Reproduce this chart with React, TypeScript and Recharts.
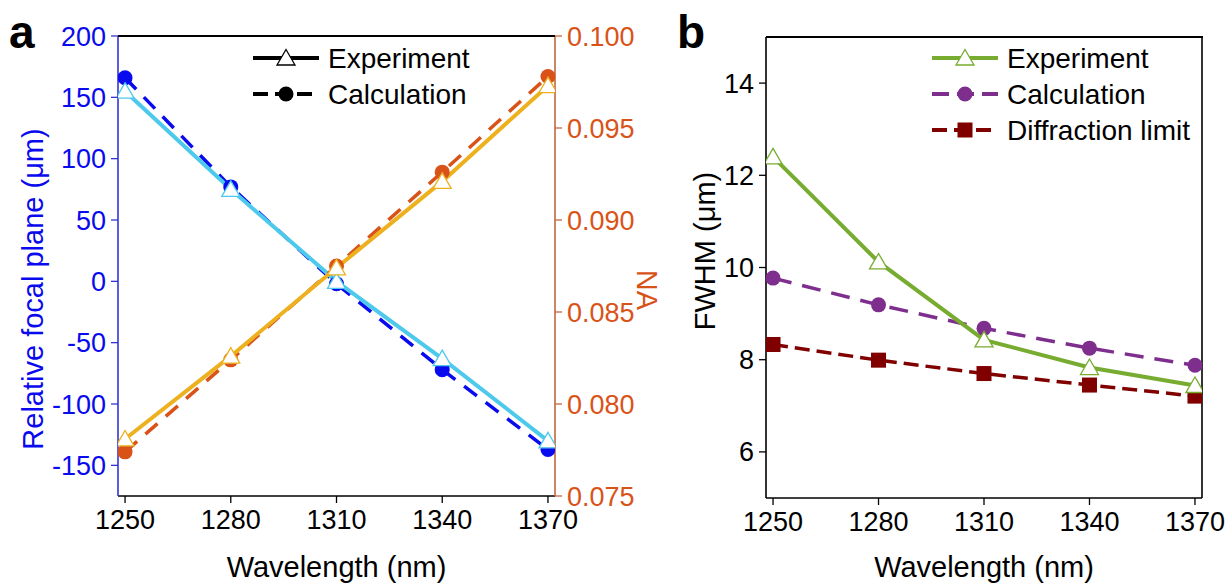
import { LineChart, Line, XAxis, YAxis, Legend } from 'recharts'

const WAVELENGTHS = [1250, 1280, 1310, 1340, 1370]
const FOCAL_EXP = [155, 75, 0, -63, -130]
const FOCAL_CALC = [166, 77, -2, -72, -137]
const NA_EXP = [0.0781, 0.0826, 0.0874, 0.0921, 0.0973]
const NA_CALC = [0.0774, 0.0824, 0.0875, 0.0926, 0.0978]
const FWHM_EXP = [12.4, 10.12, 8.43, 7.83, 7.44]
const FWHM_CALC = [9.77, 9.19, 8.68, 8.25, 7.88]
const FWHM_DIFF = [8.33, 7.99, 7.7, 7.45, 7.21]

const X_TICKS = [1250, 1280, 1310, 1340, 1370]
const FOCAL_TICKS = [-150, -100, -50, 0, 50, 100, 150, 200]
const NA_TICKS = [0.075, 0.08, 0.085, 0.09, 0.095, 0.1]
const FWHM_TICKS = [6, 8, 10, 12, 14]

const FONT = '"Liberation Sans", Arial, sans-serif'
const BLUE = '#0A0AEE'
const CYAN = '#4DC9EC'
const ORANGE = '#D95319'
const YELLOW = '#EDB120'
const GREEN = '#77AC30'
const PURPLE = '#7E2F8E'
const DARKRED = '#800000'

const dataA = WAVELENGTHS.map((w, i) => ({
  w,
  focalExp: FOCAL_EXP[i],
  focalCalc: FOCAL_CALC[i],
  naExp: NA_EXP[i],
  naCalc: NA_CALC[i]
}))

const dataB = WAVELENGTHS.map((w, i) => ({
  w,
  exp: FWHM_EXP[i],
  calc: FWHM_CALC[i],
  diff: FWHM_DIFF[i]
}))

// marker shapes
function triPath(cx: number, cy: number) {
  return `M${cx},${cy - 8.5} L${cx + 9},${cy + 7} L${cx - 9},${cy + 7} Z`
}

const triDot = (color: string) => (p: any) => (
  <path key={`t-${p.index}`} d={triPath(p.cx, p.cy)} fill="#fff" stroke={color} strokeWidth={1.3} />
)
const circleDot = (color: string, r = 7.5) => (p: any) => (
  <circle key={`c-${p.index}`} cx={p.cx} cy={p.cy} r={r} fill={color} />
)
const squareDot = (color: string) => (p: any) => (
  <rect key={`s-${p.index}`} x={p.cx - 7.5} y={p.cy - 7.5} width={15} height={15} fill={color} />
)

function marker(kind: string, cx: number, cy: number, color: string) {
  if (kind === 'tri') return <path d={triPath(cx, cy)} fill="#fff" stroke={color} strokeWidth={1.3} />
  if (kind === 'circle') return <circle cx={cx} cy={cy} r={7.5} fill={color} />
  return <rect x={cx - 7.5} y={cy - 7.5} width={15} height={15} fill={color} />
}

const LEGEND_A = [
  { name: 'Experiment', color: '#000', dash: undefined, kind: 'tri' },
  { name: 'Calculation', color: '#000', dash: '15 7', kind: 'circle' }
]
const LEGEND_B = [
  { name: 'Experiment', color: GREEN, dash: undefined, kind: 'tri' },
  { name: 'Calculation', color: PURPLE, dash: '17 8', kind: 'circle' },
  { name: 'Diffraction limit', color: DARKRED, dash: '15 7', kind: 'square' }
]

function LegendBox({ items, width }: { items: typeof LEGEND_B; width: number }) {
  return (
    <svg width={width} height={items.length * 36 + 4} style={{ display: 'block', overflow: 'visible' }}>
      {items.map((it, i) => {
        const y = 18 + i * 36
        return (
          <g key={it.name}>
            <line x1={2} x2={68} y1={y} y2={y} stroke={it.color} strokeWidth={4} strokeDasharray={it.dash} />
            {marker(it.kind, 35, y, it.color)}
            <text x={77} y={y} dominantBaseline="central" fontSize={28} fontFamily={FONT} fill="#000">
              {it.name}
            </text>
          </g>
        )
      })}
    </svg>
  )
}

const title = (text: string, color: string, angle: number, fx: (vb: any) => number, fy: (vb: any) => number) => ({
  content: (p: any) => {
    const vb = p.viewBox
    const x = fx(vb)
    const y = fy(vb)
    return (
      <text
        x={x}
        y={y}
        transform={angle ? `rotate(${angle} ${x} ${y})` : undefined}
        textAnchor="middle"
        fontSize={29}
        fontFamily={FONT}
        fill={color}
      >
        {text}
      </text>
    )
  }
})

const tickStyle = (color: string) => ({ fill: color, fontSize: 27, fontFamily: FONT })
const axisLine = (color: string) => ({ stroke: color, strokeWidth: 1.6 })

export default function App() {
  return (
    <div style={{ position: 'absolute', left: 0, top: 0, width: 1230, height: 583, background: '#fff', fontFamily: FONT }}>
      <div style={{ position: 'absolute', left: 0, top: 0 }}>
        <LineChart width={665} height={583} data={dataA} margin={{ top: 36, right: 0, left: 0, bottom: 0 }}>
          <XAxis
            dataKey="w"
            type="number"
            domain={[1248, 1372]}
            ticks={X_TICKS}
            height={87}
            axisLine={axisLine('#000')}
            tickLine={{ stroke: '#000', strokeWidth: 1.3 }}
            tickSize={7}
            tickMargin={7}
            tick={tickStyle('#000')}
            allowDataOverflow
            label={title('Wavelength (nm)', '#000', 0, (vb) => vb.x + vb.width / 2, (vb) => vb.y + 81)}
          />
          <YAxis
            yAxisId="left"
            type="number"
            domain={[-175, 200]}
            ticks={FOCAL_TICKS}
            width={118}
            axisLine={axisLine('#3535D0')}
            tickLine={{ stroke: '#3535D0', strokeWidth: 1.3 }}
            tickSize={7}
            tickMargin={5}
            tick={tickStyle(BLUE)}
            allowDataOverflow
            label={title('Relative focal plane (μm)', BLUE, -90, () => 43, () => 289)}
          />
          <YAxis
            yAxisId="right"
            orientation="right"
            type="number"
            domain={[0.075, 0.1]}
            ticks={NA_TICKS}
            width={110}
            axisLine={axisLine('#C0683F')}
            tickLine={{ stroke: '#C0683F', strokeWidth: 1.3 }}
            tickSize={7}
            tickMargin={5}
            tick={tickStyle(ORANGE)}
            tickFormatter={(v: number) => v.toFixed(3)}
            allowDataOverflow
            label={title('NA', ORANGE, 90, () => 637, () => 290)}
          />
          <Legend
            layout="horizontal"
            verticalAlign="middle"
            align="center"
            wrapperStyle={{ left: 251, top: 40, width: 240 }}
            content={() => <LegendBox items={LEGEND_A} width={240} />}
          />
          <Line
            yAxisId="left"
            dataKey="focalCalc"
            stroke={BLUE}
            strokeWidth={3.5}
            strokeDasharray="16 11"
            dot={circleDot(BLUE)}
            isAnimationActive={false}
          />
          <Line
            yAxisId="left"
            dataKey="focalExp"
            stroke={CYAN}
            strokeWidth={4}
            dot={triDot(CYAN)}
            isAnimationActive={false}
          />
          <Line
            yAxisId="right"
            dataKey="naCalc"
            stroke={ORANGE}
            strokeWidth={3.5}
            strokeDasharray="16 11"
            dot={circleDot(ORANGE)}
            isAnimationActive={false}
          />
          <Line
            yAxisId="right"
            dataKey="naExp"
            stroke={YELLOW}
            strokeWidth={4}
            dot={triDot(YELLOW)}
            isAnimationActive={false}
          />
        </LineChart>
      </div>

      <div style={{ position: 'absolute', left: 665, top: 0 }}>
        <LineChart width={565} height={583} data={dataB} margin={{ top: 37, right: 0, left: 0, bottom: 0 }}>
          <XAxis
            dataKey="w"
            type="number"
            domain={[1248, 1372]}
            ticks={X_TICKS}
            height={85}
            axisLine={axisLine('#000')}
            tickLine={{ stroke: '#000', strokeWidth: 1.3 }}
            tickSize={7}
            tickMargin={7}
            tick={tickStyle('#000')}
            allowDataOverflow
            label={title('Wavelength (nm)', '#000', 0, (vb) => vb.x + vb.width / 2, (vb) => vb.y + 79)}
          />
          <YAxis
            type="number"
            domain={[5, 15]}
            ticks={FWHM_TICKS}
            width={101}
            axisLine={axisLine('#000')}
            tickLine={{ stroke: '#000', strokeWidth: 1.3 }}
            tickSize={7}
            tickMargin={5}
            tick={tickStyle('#000')}
            allowDataOverflow
            label={title('FWHM (μm)', '#000', -90, () => 50, () => 251)}
          />
          <YAxis
            yAxisId="border"
            orientation="right"
            width={28}
            axisLine={axisLine('#000')}
            tick={false}
            tickLine={false}
          />
          <Legend
            layout="horizontal"
            verticalAlign="middle"
            align="center"
            wrapperStyle={{ left: 265, top: 40, width: 300 }}
            content={() => <LegendBox items={LEGEND_B} width={300} />}
          />
          <Line
            dataKey="diff"
            stroke={DARKRED}
            strokeWidth={3.5}
            strokeDasharray="15 7"
            dot={squareDot(DARKRED)}
            isAnimationActive={false}
          />
          <Line
            dataKey="calc"
            stroke={PURPLE}
            strokeWidth={3.5}
            strokeDasharray="19 11"
            dot={circleDot(PURPLE)}
            isAnimationActive={false}
          />
          <Line
            dataKey="exp"
            stroke={GREEN}
            strokeWidth={4}
            dot={triDot(GREEN)}
            isAnimationActive={false}
          />
        </LineChart>
      </div>

      {/* top frame edges of both panels */}
      <div style={{ position: 'absolute', left: 118, top: 35, width: 437, height: 2, background: '#000' }} />
      <div style={{ position: 'absolute', left: 766, top: 36, width: 437, height: 2, background: '#000' }} />

      <svg width={1230} height={583} style={{ position: 'absolute', left: 0, top: 0, pointerEvents: 'none' }}>
        <text x={9} y={48} fontSize={46} fontWeight="bold" fontFamily={FONT} fill="#000">a</text>
        <text x={677} y={48} fontSize={46} fontWeight="bold" fontFamily={FONT} fill="#000">b</text>
      </svg>
    </div>
  )
}
